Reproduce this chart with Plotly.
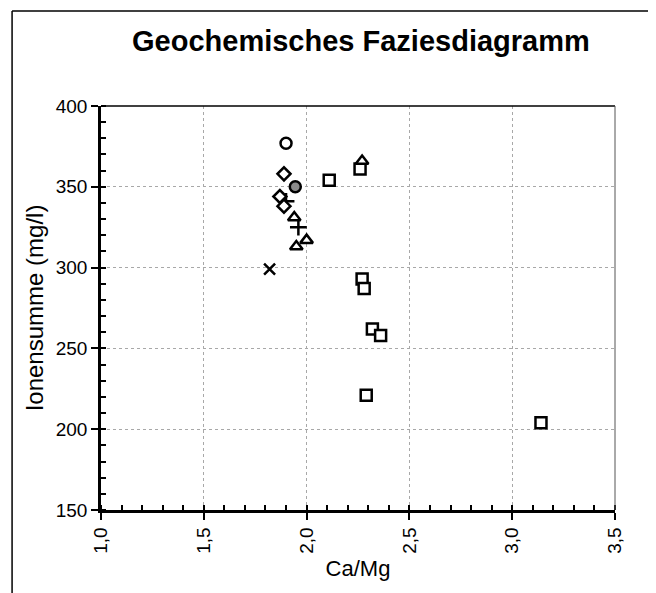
import plotly.graph_objects as go

# Data (Ca/Mg ratio vs. ion sum in mg/l)
squares_x = [2.26, 2.11, 2.27, 2.28, 2.32, 2.36, 2.29, 3.14]
squares_y = [361, 354, 293, 287, 262, 258, 221, 204]
triangles_x = [2.27, 1.94, 2.00, 1.95]
triangles_y = [366, 331, 317, 313]
diamonds_x = [1.89, 1.87, 1.89]
diamonds_y = [358, 344, 338]
circle_x = [1.90]
circle_y = [377]
shaded_x = [1.945]
shaded_y = [350]
plus_x = [1.96, 1.90]
plus_y = [325, 341]
cross_x = [1.82]
cross_y = [299]

x_ticks = [1.0, 1.5, 2.0, 2.5, 3.0, 3.5]
y_ticks = [150, 200, 250, 300, 350, 400]

FONT = "Liberation Sans, Arial, sans-serif"

fig = go.Figure()

def add(x, y, symbol, size, fill="white", lw=2.5):
    fig.add_trace(go.Scatter(
        x=x, y=y, mode="markers",
        marker=dict(symbol=symbol, size=size, color=fill,
                    line=dict(color="black", width=lw)),
        showlegend=False, hoverinfo="x+y"))

add(plus_x, plus_y, "cross-thin", 12, fill="black", lw=2.5)
add(squares_x, squares_y, "square", 11)
add(triangles_x, triangles_y, "triangle-up", 11)
add(diamonds_x, diamonds_y, "diamond", 10)
add(circle_x, circle_y, "circle", 11)
add(shaded_x, shaded_y, "circle", 11, fill="#8a8a8a")
add(cross_x, cross_y, "x-thin", 11, fill="black", lw=2.5)

fig.update_layout(
    width=656, height=593,
    margin=dict(l=93, r=49, t=98, b=91),
    paper_bgcolor="white", plot_bgcolor="white",
    separators=",.",
    font=dict(family=FONT, color="black"),
    title=dict(text="<b>Geochemisches Faziesdiagramm</b>",
               font=dict(family=FONT, size=29, color="black"),
               x=0.538, xanchor="center", y=0.945, yanchor="middle"),
)

fig.update_xaxes(
    range=[1.0, 3.5], tickvals=x_ticks, tickformat=".1f", tickangle=-90,
    showline=True, linecolor="black", linewidth=2.5,
    ticks="outside", ticklen=7, tickwidth=2, tickcolor="black",
    minor=dict(dtick=0.1, ticks="inside", ticklen=5, tickwidth=2,
               tickcolor="black", showgrid=False),
    showgrid=True, gridcolor="#a8a8a8", griddash="dot", gridwidth=1,
    zeroline=False,
    tickfont=dict(size=19, family=FONT),
    title=dict(text="Ca/Mg", font=dict(size=22, family=FONT), standoff=8),
)
fig.update_yaxes(
    range=[150, 400], tickvals=y_ticks,
    showline=True, linecolor="black", linewidth=2.5,
    ticks="outside", ticklen=7, tickwidth=2, tickcolor="black",
    minor=dict(dtick=10, ticks="inside", ticklen=5, tickwidth=2,
               tickcolor="black", showgrid=False),
    showgrid=True, gridcolor="#a8a8a8", griddash="dot", gridwidth=1,
    zeroline=False,
    tickfont=dict(size=19, family=FONT),
    title=dict(text="Ionensumme (mg/l)", font=dict(size=24, family=FONT), standoff=6),
)

# plot-area top and right border (thin)
fig.add_shape(type="line", xref="paper", yref="paper", x0=0, x1=1, y0=1, y1=1,
              line=dict(color="black", width=1.5))
fig.add_shape(type="line", xref="paper", yref="paper", x0=1, x1=1, y0=0, y1=1,
              line=dict(color="#555555", width=1))
# outer frame (left, top, right)
for (x0, y0, x1, y1) in [(-0.173, -0.3, -0.173, 1.235), (-0.173, 1.235, 1.07, 1.235),
                          (1.07, 1.235, 1.07, -0.3)]:
    fig.add_shape(type="line", xref="paper", yref="paper", x0=x0, y0=y0, x1=x1, y1=y1,
                  line=dict(color="black", width=1.5))

fig.write_html("out.html")
